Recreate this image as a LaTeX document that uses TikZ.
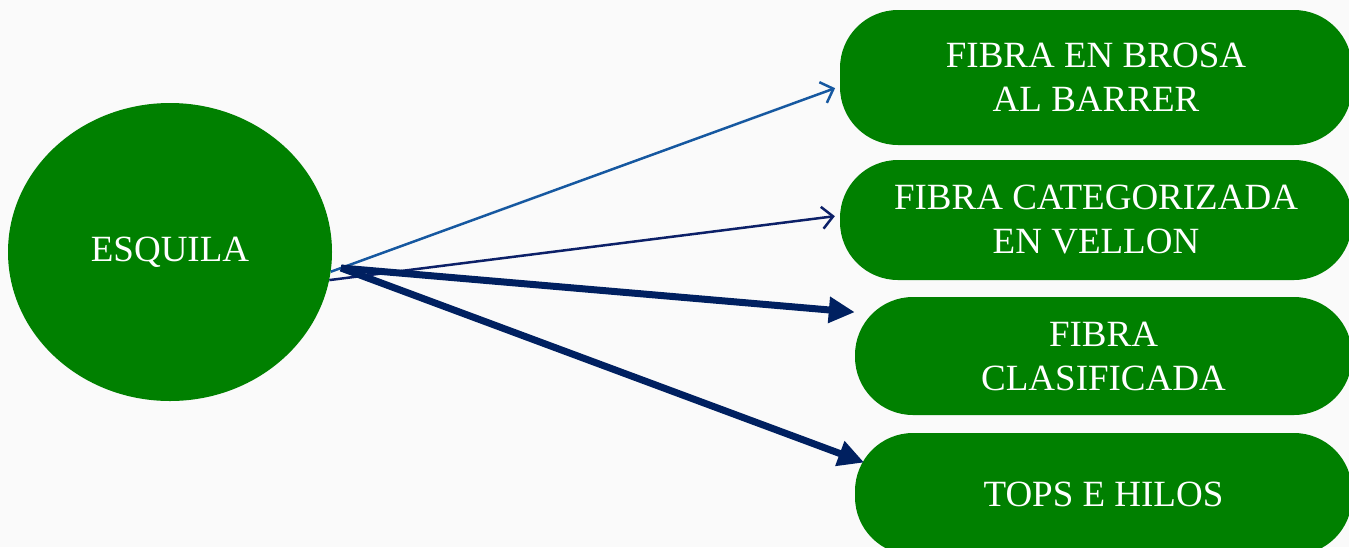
\documentclass[tikz,border=0pt]{standalone}
\usepackage{fontspec}
\setmainfont{Liberation Serif}
\usetikzlibrary{arrows.meta,shapes.geometric}

\definecolor{leaf}{RGB}{0,128,0}
\definecolor{thinblue}{RGB}{22,88,160}
\definecolor{thinnavy}{RGB}{12,32,104}
\definecolor{navy}{RGB}{0,32,96}

\begin{document}
\begin{tikzpicture}[x=1pt,y=-1pt,
    label font/.style={text=white,font=\fontsize{37}{44}\selectfont,align=center},
    box/.style={fill=leaf,rounded corners=58pt,inner sep=0pt,label font},
    thin arrow/.style={line width=2.5pt,-{Straight Barb[length=11pt,width=22pt]}},
    thick arrow/.style={line width=7pt,draw=navy,line cap=butt,-{Triangle[length=26pt,width=25pt]}}]

    \clip (0,0) rectangle (1349,547);
    \fill [white!98!black] (0,0) rectangle (1349,547);

    \node [ellipse,fill=leaf,inner sep=0pt,minimum width=324pt,minimum height=298pt,label font] (esquila) at (170,252) {ESQUILA};

    \node [box,minimum width=512pt,minimum height=135pt] (brosa) at (1096,77.5) {FIBRA EN BROSA\\AL BARRER};
    \node [box,minimum width=512pt,minimum height=120pt] (vellon) at (1096,220) {FIBRA CATEGORIZADA\\EN VELLON};
    \node [box,minimum width=497pt,minimum height=118pt] (clasif) at (1103.5,356) {FIBRA\\CLASIFICADA};
    \node [box,minimum width=497pt,minimum height=122pt] (tops) at (1103.5,494) {TOPS E HILOS};

    \coordinate (hub) at (341,268);

    \draw [thin arrow,draw=thinblue,shorten >=5pt] (esquila.-7) -- (brosa.182) ;
    \draw [thin arrow,draw=thinnavy,shorten >=5pt] (esquila.-10) -- (vellon.179) ;
    \draw [thick arrow] (hub) -- (clasif.170) ;
    \draw [thick arrow,shorten >=-10pt] (hub) -- (tops.172) ;

\end{tikzpicture}
\end{document}
